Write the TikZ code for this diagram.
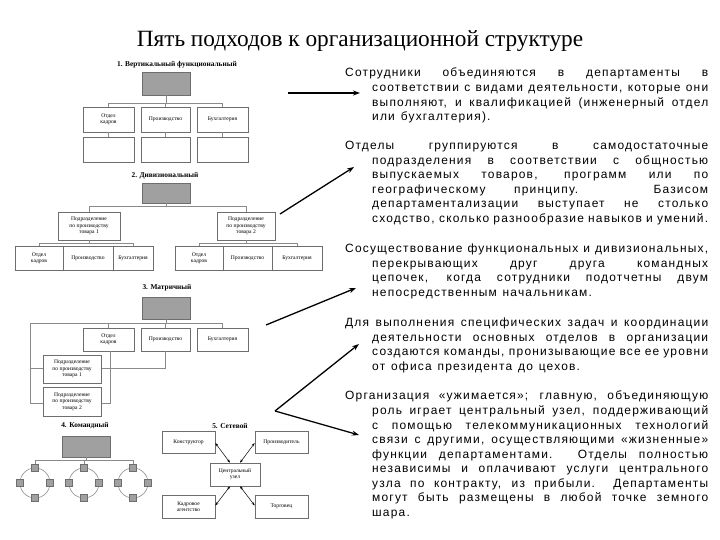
\documentclass[tikz,border=0pt]{standalone}
\usepackage{fontspec}
\setmainfont{Liberation Serif}
\newfontfamily\arial[LetterSpace=10,WordSpace=1.3]{Liberation Sans}
\usetikzlibrary{arrows.meta}
\definecolor{ln}{HTML}{8A8A8A}
\definecolor{bd}{HTML}{6E6E6E}
\definecolor{gf}{HTML}{A0A0A0}
\tikzset{
 bx/.style={draw=bd,fill=white,line width=0.6bp,inner sep=0pt,align=center,font=\fontsize{5.6}{6.4}\selectfont},
 gbox/.style={draw=bd,fill=gf,line width=0.6bp,inner sep=0pt},
 sq/.style={draw=bd,fill=gf,line width=0.5bp,minimum size=7bp,inner sep=0pt},
 wire/.style={draw=ln,line width=0.6bp},
 sect/.style={font=\bfseries\fontsize{7.4}{8}\selectfont},
 arr/.style={-{Stealth[length=7bp,width=5bp]},line width=1.3bp},
 darr/.style={{Stealth[length=3.5bp,width=2.5bp]}-{Stealth[length=3.5bp,width=2.5bp]},line width=0.5bp},
 para/.style={anchor=north west,inner sep=0pt,text width=363bp,align=justify,font=\arial\fontsize{12}{14.6}\selectfont}
}
\newcommand{\hpar}[1]{\hyphenpenalty=10000\emergencystretch=3em\hangindent=27bp\hangafter=1\noindent #1\par}
\begin{document}
\begin{tikzpicture}[x=1bp,y=-1bp]
\path[fill=white] (0,0) rectangle (720,540);
\useasboundingbox (0,0) rectangle (720,540);
\node[font=\fontsize{23.4}{26}\selectfont] (title) at (360,41) {Пять подходов к организационной структуре};
% ---------- 1
\node[sect] (s1) at (177,65) {1. Вертикальный функциональный};
\node[gbox,minimum width=48bp,minimum height=23bp] (g1) at (166,83.5) {};
\node[bx,minimum width=51bp,minimum height=25bp] (a1) at (108.5,119.5) {Отдел\\кадров};
\node[bx,minimum width=49bp,minimum height=25bp] (b1) at (165.5,119.5) {Производство};
\node[bx,minimum width=51bp,minimum height=25bp] (c1) at (222.5,119.5) {Бухгалтерия};
\node[bx,minimum width=51bp,minimum height=25bp] (a1l) at (108.5,149.5) {};
\node[bx,minimum width=49bp,minimum height=25bp] (b1l) at (165.5,149.5) {};
\node[bx,minimum width=51bp,minimum height=25bp] (c1l) at (222.5,149.5) {};
\coordinate (y1) at (0,103);
\draw[wire] (g1.south) -- (g1.south|-y1);
\draw[wire] (a1.north) -- (a1.north|-y1) -- (c1.north|-y1) -- (c1.north);
\draw[wire] (b1.north) -- (b1.north|-y1);
\draw[wire] (a1.south) -- (a1l.north);
\draw[wire] (b1.south) -- (b1l.north);
\draw[wire] (c1.south) -- (c1l.north);
% ---------- 2
\node[sect] (s2) at (165,176) {2. Дивизиональный};
\node[gbox,minimum width=48bp,minimum height=20bp] (g2) at (166,193) {};
\node[bx,minimum width=62bp,minimum height=28bp] (dA) at (89,226) {Подразделение\\по производству\\товара 1};
\node[bx,minimum width=58bp,minimum height=28bp] (dB) at (246,226) {Подразделение\\по производству\\товара 2};
\coordinate (y2) at (0,206);
\coordinate (y2b) at (0,243);
\draw[wire] (g2.south) -- (g2.south|-y2);
\draw[wire] (dA.north) -- (dA.north|-y2) -- (dB.north|-y2) -- (dB.north);
\node[bx,minimum width=48bp,minimum height=24bp] (A1) at (39,258) {Отдел\\кадров};
\node[bx,minimum width=50bp,minimum height=24bp] (A2) at (88,258) {Производство};
\node[bx,minimum width=40bp,minimum height=24bp] (A3) at (133,258) {Бухгалтерия};
\node[bx,minimum width=48bp,minimum height=24bp] (B1) at (199,258) {Отдел\\кадров};
\node[bx,minimum width=49bp,minimum height=24bp] (B2) at (247.5,258) {Производство};
\node[bx,minimum width=50bp,minimum height=24bp] (B3) at (297,258) {Бухгалтерия};
\draw[wire] (dA.south) -- (dA.south|-y2b);
\draw[wire] (A1.north) -- (A1.north|-y2b) -- (A3.north|-y2b) -- (A3.north);
\draw[wire] (dB.south) -- (dB.south|-y2b);
\draw[wire] (B1.north) -- (B1.north|-y2b) -- (B3.north|-y2b) -- (B3.north);
% ---------- 3
\node[sect] (s3) at (167,288) {3. Матричный};
\node[gbox,minimum width=48bp,minimum height=22bp] (g3) at (166,308) {};
\node[bx,minimum width=51bp,minimum height=23bp] (m1) at (108.5,339.5) {Отдел\\кадров};
\node[bx,minimum width=49bp,minimum height=23bp] (m2) at (165.5,339.5) {Производство};
\node[bx,minimum width=51bp,minimum height=23bp] (m3) at (222.5,339.5) {Бухгалтерия};
\coordinate (y3) at (0,323);
\coordinate (y3h) at (0,368);
\coordinate (y3b) at (0,403);
\coordinate (lft) at (30,323);
\draw[wire] (g3.south) -- (g3.south|-y3);
\draw[wire] (lft|-y3b) -- (lft) -- (m3.north|-y3) -- (m3.north);
\draw[wire] (m1.north) -- (m1.north|-y3);
\draw[wire] (m2.north) -- (m2.north|-y3);
\draw[wire] (m2.south) -- (m2.south|-y3h) -- (lft|-y3h);
\draw[wire] (lft|-y3b) -- (110,403) -- (110,351);
\node[bx,minimum width=58bp,minimum height=28bp] (d3a) at (72,369) {Подразделение\\по производству\\товара 1};
\node[bx,minimum width=58bp,minimum height=29bp] (d3b) at (72,401.5) {Подразделение\\по производству\\товара 2};
% ---------- 4
\node[sect] (s4) at (85,426) {4. Командный};
\node[gbox,minimum width=48bp,minimum height=21bp] (g4) at (86,446.5) {};
\coordinate (y4) at (0,460);
\foreach \i/\cx in {1/35,2/84,3/133}{
  \draw[wire] (\cx,483) circle (15);
  \node[sq] (t\i n) at (\cx,468) {};
  \node[sq] (t\i s) at (\cx,498) {};
  \node[sq] (t\i w) at (\cx-15,483) {};
  \node[sq] (t\i e) at (\cx+15,483) {};
  \draw[wire] (t\i n.north) -- (t\i n.north|-y4);
}
\draw[wire] (t1n.north|-y4) -- (t3n.north|-y4);
\draw[wire] (g4.south) -- (g4.south|-y4);
% ---------- 5
\node[sect] (s5) at (230,426) {5. Сетевой};
\node[bx,minimum width=53bp,minimum height=22bp] (K) at (188.5,442) {Конструктор};
\node[bx,minimum width=53bp,minimum height=22bp] (P) at (281.5,442) {Производитель};
\node[bx,minimum width=50bp,minimum height=23bp] (C) at (235,474.5) {Центральный\\узел};
\node[bx,minimum width=53bp,minimum height=23bp] (KA) at (188.5,506.5) {Кадровое\\агентство};
\node[bx,minimum width=53bp,minimum height=23bp] (T) at (281.5,506.5) {Торговец};
\draw[darr] ([yshift=-1bp]K.east) -- ([xshift=-5bp]C.north);
\draw[darr] ([yshift=-1bp]P.west) -- ([xshift=5bp]C.north);
\draw[darr] ([yshift=1bp]KA.east) -- ([xshift=-5bp]C.south);
\draw[darr] ([yshift=1bp]T.west) -- ([xshift=5bp]C.south);
% ---------- text
\node[para] (p1) at (345,68) {\hpar{Сотрудники объединяются в департаменты в соответствии с видами деятельности, которые они\linebreak выполняют, и квалификацией (инженерный отдел или бухгалтерия).}};
\node[para] (p2) at (345,141) {\hpar{Отделы группируются в самодостаточные подразделения в соответствии с общностью выпускаемых товаров, программ или по географическому принципу. Базисом департаментализации выступает не столько сходство, сколько разнообразие навыков и умений.}};
\node[para] (p3) at (345,244) {\hpar{Сосуществование функциональных и дивизиональных, перекрывающих друг друга командных цепочек, когда сотрудники подотчетны двум непосредственным начальникам.}};
\node[para] (p4) at (345,318) {\hpar{Для выполнения специфических задач и координации деятельности основных отделов в организации создаются команды, пронизывающие все ее уровни от офиса президента до цехов.}};
\node[para] (p5) at (345,391) {\hpar{Организация «ужимается»; главную, объединяющую роль играет центральный узел, поддерживающий с помощью телекоммуникационных технологий связи с другими, осуществляющими «жизненные» функции департаментами. Отделы полностью независимы и оплачивают услуги центрального узла по контракту, из прибыли. Департаменты могут быть размещены в любой точке земного шара.}};
% ---------- arrows
\coordinate (e1s) at (288,93); \coordinate (e1e) at (360,93);
\coordinate (e2s) at (280,214); \coordinate (e2e) at (354,167);
\coordinate (e3s) at (266,325); \coordinate (e3e) at (356,288);
\coordinate (e4s) at (275,411); \coordinate (e4e) at (359,344); \coordinate (e5e) at (359,435);
\draw[arr] (e1s) -- (e1e);
\draw[arr] (e2s) -- (e2e);
\draw[arr] (e3s) -- (e3e);
\draw[arr] (e4s) -- (e4e);
\draw[arr] (e4s) -- (e5e);
\end{tikzpicture}
\end{document}
